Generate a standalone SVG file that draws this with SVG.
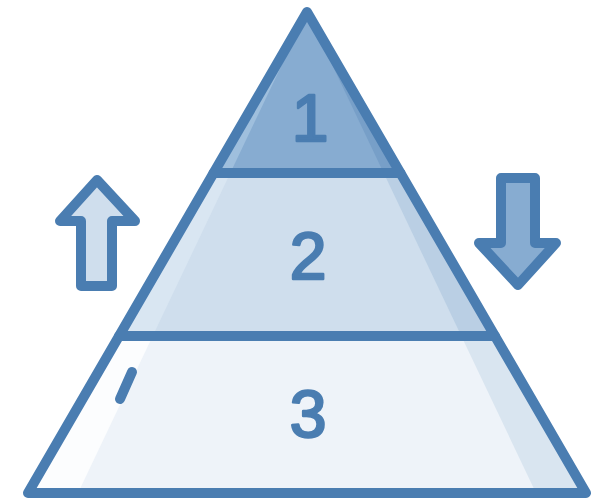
<svg xmlns="http://www.w3.org/2000/svg" width="600" height="501" viewBox="0 0 600 501">
  <style>
    .edge { fill: none; stroke: #4a7db1; stroke-width: 10; stroke-linejoin: round; stroke-linecap: round; }
    .num { font-family: "Liberation Sans", "DejaVu Sans", sans-serif; font-weight: 400; font-size: 66px; fill: #4a7db1; stroke: #4a7db1; stroke-width: 2.5; stroke-linejoin: round; text-anchor: middle; }
  </style>
  <rect width="600" height="501" fill="#ffffff"/>
  <g id="layer-1">
    <polygon points="307,12 213.6,173 400.4,173" fill="#87acd1"/>
    <polygon points="307,12 213.6,173 230.3,173" fill="#9fbfdd"/>
    <polygon points="307,12 400.4,173 383.7,173" fill="#779fc8"/>
    <polygon class="edge" points="307,12 213.6,173 400.4,173"/>
    <text class="num" x="310" y="141">1</text>
  </g>
  <g id="layer-2">
    <polygon points="213.6,173 400.4,173 494.9,336 119.1,336" fill="#cfdeed"/>
    <polygon points="213.6,173 230.3,173 152.7,336 119.1,336" fill="#d9e6f2"/>
    <polygon points="400.4,173 383.7,173 461.3,336 494.9,336" fill="#bacfe4"/>
    <polygon class="edge" points="213.6,173 400.4,173 494.9,336 119.1,336"/>
    <text class="num" x="308" y="279">2</text>
  </g>
  <g id="layer-3">
    <polygon points="119.1,336 494.9,336 586,493 28,493" fill="#eef3f9"/>
    <polygon points="119.1,336 152.7,336 78,493 28,493" fill="#fcfdfe"/>
    <polygon points="494.9,336 461.3,336 536,493 586,493" fill="#d9e5f0"/>
    <polygon class="edge" points="119.1,336 494.9,336 586,493 28,493"/>
    <line class="edge" x1="132" y1="372" x2="120" y2="399" stroke-width="8"/>
    <text class="num" x="308" y="437">3</text>
  </g>
  <g id="arrow-up">
    <polygon class="edge" points="97,180 135,221 112,221 112,286 81,286 81,221 60,221" style="fill:#cfdeed"/>
  </g>
  <g id="arrow-down">
    <polygon class="edge" points="501,178 535,178 535,243 556,243 518,285 479,243 501,243" style="fill:#87acd1"/>
  </g>
</svg>
